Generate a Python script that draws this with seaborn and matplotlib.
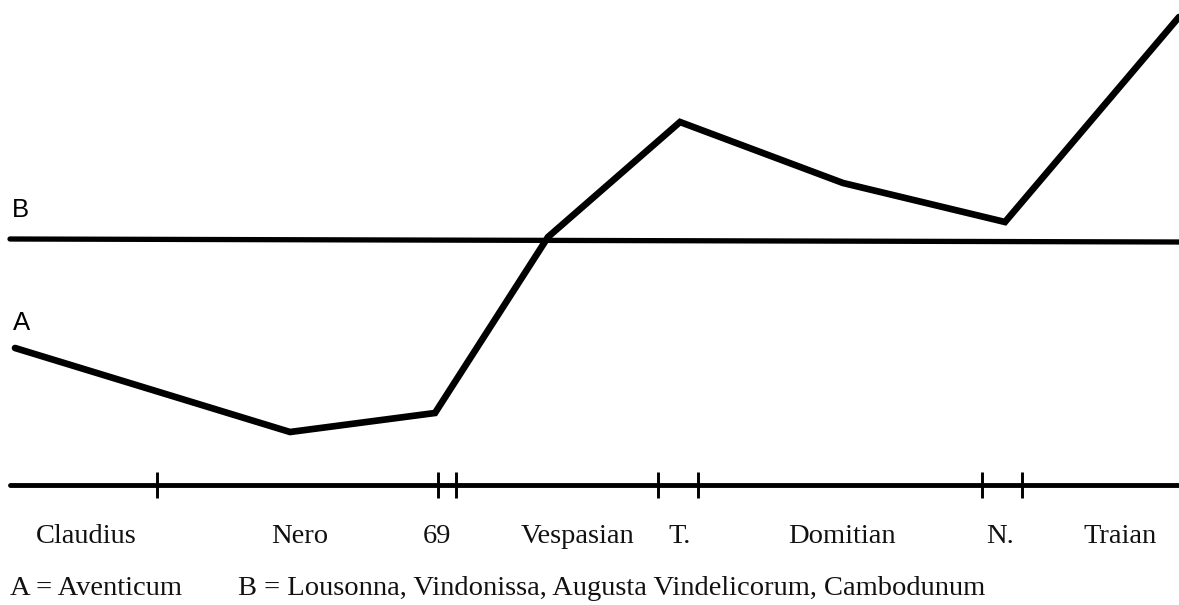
import numpy as np
import pandas as pd
import seaborn as sns
import matplotlib.pyplot as plt

# Line A (Aventicum): x along the time axis, height above the baseline
a_x = [15, 290, 435, 548, 680, 843, 1005, 1179]
a_y = [137, 53, 72, 248, 363, 302, 263, 468]

# Line B (Lousonna, Vindonissa, ...): flat
b_x = [10, 1179]
b_y = [246, 243]

# Reign boundaries on the time axis
tick_x = [157, 438, 456, 658, 698, 982, 1022]

# Reign labels and their centres
reign_labels = ['Claudius', 'Nero', '69', 'Vespasian', 'T.', 'Domitian', 'N.', 'Traian']
reign_x = [86, 300, 437, 578, 680, 842, 1000, 1120]

sns.set_style('white')
serif = ['Liberation Serif', 'DejaVu Serif']
sans = ['Liberation Sans', 'DejaVu Sans']

fig = plt.figure(figsize=(11.79, 6.05), dpi=100)
ax = fig.add_axes([0, 0, 1, 1])

df_a = pd.DataFrame({'x': a_x, 'y': a_y})
df_b = pd.DataFrame({'x': b_x, 'y': b_y})
sns.lineplot(data=df_a, x='x', y='y', ax=ax, color='black', lw=4.8,
             estimator=None, solid_joinstyle='miter', solid_capstyle='round')
sns.lineplot(data=df_b, x='x', y='y', ax=ax, color='black', lw=3.8,
             estimator=None, solid_capstyle='round')

ax.set_xlim(0, 1179)
ax.set_ylim(-120, 485)

# time axis drawn as the bottom spine at height 0
for s in ['top', 'right', 'left']:
    ax.spines[s].set_visible(False)
ax.spines['bottom'].set_position(('data', 0))
ax.spines['bottom'].set_bounds(10, 1179)
ax.spines['bottom'].set_linewidth(3.5)
ax.spines['bottom'].set_color('black')
ax.spines['bottom'].set_capstyle('round')
ax.set_xticks(tick_x)
ax.set_xticklabels([])
ax.tick_params(axis='x', direction='inout', length=19, width=2.1, color='black', bottom=True)
ax.set_yticks([])
ax.set_xlabel('')
ax.set_ylabel('')

for lab, x in zip(reign_labels, reign_x):
    ax.text(x, -58, lab, ha='center', va='baseline', fontsize=20.5, family=serif, color='#111111')

# series names
ax.text(12, 485 - 217, 'B', ha='left', va='baseline', fontsize=18.5, family=sans, color='black')
ax.text(13, 485 - 330, 'A', ha='left', va='baseline', fontsize=18.5, family=sans, color='black')

ax.text(10, -110, 'A = Aventicum', ha='left', va='baseline', fontsize=20.5,
        family=serif, color='#111111')
ax.text(238, -110, 'B = Lousonna, Vindonissa, Augusta Vindelicorum, Cambodunum',
        ha='left', va='baseline', fontsize=20.5, family=serif, color='#111111')

fig.savefig('out.png', dpi=100)
